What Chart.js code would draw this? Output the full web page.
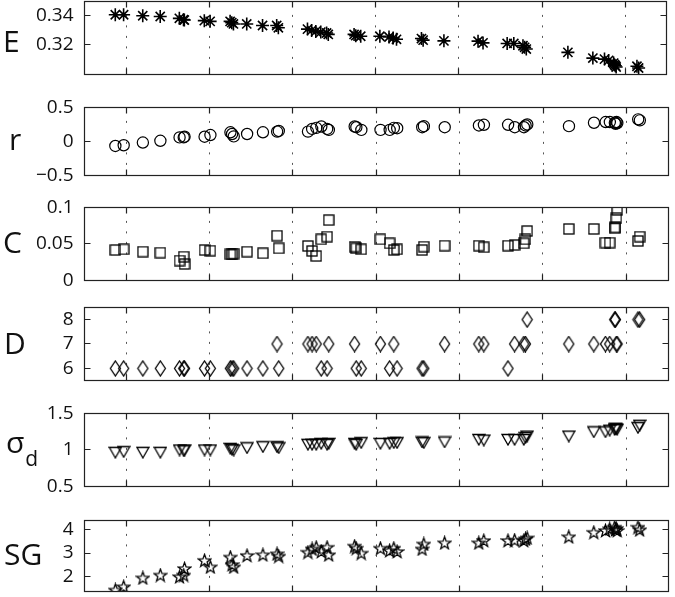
<!DOCTYPE html>
<html><head><meta charset="utf-8">
<script src="https://cdn.jsdelivr.net/npm/chart.js@4/dist/chart.umd.min.js"></script>
<style>
html,body{margin:0;padding:0;background:#fff;}
#wrap{position:relative;width:675px;height:597px;overflow:hidden;background:#fff;}
#wrap canvas{position:absolute;left:0;}
</style></head><body><div id="wrap"></div>
<script>
// ---- data ----
const xPos = [0.87,0.97,1.20,1.41,1.64,1.69,1.70,1.94,2.01,2.25,2.27,2.29,2.45,2.64,2.81,2.83,3.18,3.23,3.28,3.34,3.41,3.43,3.74,3.76,3.82,4.05,4.16,4.21,4.25,4.55,4.57,4.82,5.23,5.29,5.58,5.66,5.77,5.79,5.81,6.31,6.61,6.75,6.80,6.86,6.87,6.88,6.89,7.14,7.16];
const valE = [0.3407,0.3407,0.3400,0.3395,0.3382,0.3373,0.3370,0.3366,0.3361,0.3361,0.3352,0.3343,0.3343,0.3332,0.3332,0.3316,0.3307,0.3298,0.3291,0.3286,0.3280,0.3270,0.3270,0.3261,0.3257,0.3257,0.3252,0.3245,0.3236,0.3241,0.3230,0.3225,0.3223,0.3211,0.3207,0.3207,0.3191,0.3180,0.3168,0.3145,0.3105,0.3098,0.3089,0.3070,0.3059,0.3052,0.3043,0.3048,0.3036];
const valR = [-0.065,-0.055,-0.015,0.01,0.06,0.06,0.07,0.07,0.095,0.135,0.11,0.075,0.11,0.135,0.145,0.155,0.145,0.185,0.2,0.22,0.185,0.17,0.22,0.21,0.17,0.17,0.17,0.2,0.195,0.21,0.225,0.21,0.235,0.245,0.245,0.21,0.21,0.235,0.25,0.225,0.275,0.285,0.285,0.275,0.26,0.285,0.27,0.325,0.31];
const valC = [0.0418,0.0427,0.0395,0.0382,0.0273,0.0327,0.0227,0.0418,0.0409,0.0359,0.0359,0.0368,0.0395,0.0373,0.0614,0.0441,0.0473,0.0405,0.0336,0.0564,0.0600,0.0827,0.0464,0.0441,0.0427,0.0564,0.0509,0.0418,0.0427,0.0418,0.0464,0.0477,0.0477,0.0455,0.0477,0.0486,0.0509,0.0564,0.0677,0.0705,0.0705,0.0518,0.0518,0.0714,0.0727,0.0850,0.0964,0.0541,0.0600];
const valD = [6,6,6,6,6,6,6,6,6,6,6,6,6,6,7,6,7,7,7,6,6,7,7,6,6,7,6,7,6,6,6,7,7,7,6,7,7,7,8,7,7,7,7,8,8,7,7,8,8];
const valSigma = [0.968,0.977,0.968,0.968,1.0,0.99,1.0,1.0,1.0,1.022,1.01,1.0,1.03,1.045,1.045,1.03,1.077,1.077,1.077,1.09,1.077,1.09,1.09,1.077,1.1,1.09,1.09,1.1,1.1,1.11,1.1,1.11,1.144,1.135,1.144,1.144,1.144,1.17,1.19,1.19,1.248,1.248,1.27,1.28,1.29,1.29,1.284,1.306,1.338];
const valSG = [1.42,1.56,1.94,2.06,1.99,2.06,2.34,2.69,2.41,2.83,2.51,2.41,2.90,2.93,2.97,2.87,3.04,3.18,3.25,3.07,3.25,2.93,3.30,3.21,3.00,3.21,3.11,3.21,3.07,3.18,3.39,3.44,3.44,3.54,3.54,3.56,3.54,3.61,3.65,3.70,3.89,3.97,4.04,4.11,4.01,4.06,3.97,4.11,4.00];
const panelLabels = ['E','r','C','D','σ','SG'];
const panelSub = ['','','','','d',''];
const yMins = [0.299,-0.5,0,5.5,0.5,1.35];
const yMaxs = [0.35,0.5,0.1,8.5,1.5,4.4];
const yTicks = [[0.32,0.34],[-0.5,0,0.5],[0,0.05,0.1],[6,7,8],[0.5,1,1.5],[2,3,4]];
const xTicks = [1,2,3,4,5,6,7];
const xMin = 0.5, xMax = 7.5;

// ---- layout / style ----
const boxes = [[1,75,3,43],[107,176,9,141],[207,281,3,244],[307,381,4,345],[413,487,6,444],[520,592,4,556]];
const INK = '#000';
function mk(w,h,draw){const c=document.createElement('canvas');c.width=w;c.height=h;const g=c.getContext('2d');g.strokeStyle=INK;g.lineWidth=1.3;g.lineJoin='miter';draw(g,w,h);return c;}
const sq = mk(12,12,(g)=>{g.strokeRect(1,1,10,10);});
const dia = mk(13,17,(g,w,h)=>{g.beginPath();g.moveTo(w/2,1);g.lineTo(w-1.5,h/2);g.lineTo(w/2,h-1);g.lineTo(1.5,h/2);g.closePath();g.stroke();});
const tri = mk(14,13,(g,w,h)=>{g.beginPath();g.moveTo(1,1.5);g.lineTo(w-1,1.5);g.lineTo(w/2,h-1);g.closePath();g.stroke();});
const pent = mk(15,15,(g,w,h)=>{g.beginPath();const R=6.6,r=2.7,cx=w/2,cy=h/2+0.6;for(let k=0;k<10;k++){const a=-Math.PI/2+k*Math.PI/5;const rr=k%2?r:R;const px=cx+rr*Math.cos(a),py=cy+rr*Math.sin(a);k?g.lineTo(px,py):g.moveTo(px,py);}g.closePath();g.stroke();});
const styles = [
  {pointStyle:'star',radius:6.5,borderWidth:1.6},
  {pointStyle:'circle',radius:5.6,borderWidth:1.2},
  {pointStyle:sq,radius:6,borderWidth:1},
  {pointStyle:dia,radius:6,borderWidth:1},
  {pointStyle:tri,radius:6,borderWidth:1},
  {pointStyle:pent,radius:6,borderWidth:1}
];
const series = [valE,valR,valC,valD,valSigma,valSG];
function fmt(v){const s=String(Math.round(v*1000)/1000);return v<0?'\u2212'+s.slice(1):s;}

const framePlugin = {
  id:'frame',
  beforeDatasetsDraw(chart){
    const {ctx,chartArea:a,scales:{x}}=chart;
    ctx.save();ctx.strokeStyle='#555';ctx.lineWidth=1;ctx.setLineDash([2,8.5]);
    xTicks.forEach(v=>{const px=Math.floor(x.getPixelForValue(v))+0.5;ctx.beginPath();ctx.moveTo(px,a.top+3);ctx.lineTo(px,a.bottom);ctx.stroke();});
    ctx.restore();
  },
  afterDraw(chart){
    const {ctx,chartArea:a,scales:{x,y}}=chart;
    const i=chart.options.panelIndex;
    const L=Math.floor(a.left)+0.5,R=Math.floor(a.right)+0.5,T=Math.floor(a.top)+0.5,B=Math.floor(a.bottom)+0.5;
    ctx.save();ctx.strokeStyle='#222';ctx.lineWidth=1.2;
    ctx.strokeRect(L,T,R-L,B-T);
    ctx.beginPath();
    xTicks.forEach(v=>{const px=Math.floor(x.getPixelForValue(v))+0.5;ctx.moveTo(px,T);ctx.lineTo(px,T+6);ctx.moveTo(px,B);ctx.lineTo(px,B-6);});
    yTicks[i].forEach(v=>{const py=Math.floor(y.getPixelForValue(v))+0.5;ctx.moveTo(L,py);ctx.lineTo(L+6,py);ctx.moveTo(R,py);ctx.lineTo(R-6,py);});
    ctx.stroke();
    // panel label
    const bx=boxes[i];const oy=chart.options.canvasTop;
    ctx.fillStyle='#111';ctx.textBaseline='middle';ctx.textAlign='left';
    ctx.font='30px "Open Sans"';
    ctx.fillText(panelLabels[i],bx[2],bx[3]-oy);
    if(panelSub[i]){const w=ctx.measureText(panelLabels[i]).width;ctx.font='21px "Open Sans"';ctx.fillText(panelSub[i],bx[2]+w+1,bx[3]-oy+16);}
    ctx.restore();
  }
};

const wrap=document.getElementById('wrap');
series.forEach((vals,i)=>{
  const [bt,bb]=boxes[i];
  const ct=bt-22, ch=(bb-bt)+44;
  const cv=document.createElement('canvas');
  cv.width=675;cv.height=ch;cv.style.top=ct+'px';cv.style.width='675px';cv.style.height=ch+'px';
  wrap.appendChild(cv);
  new Chart(cv,{
    type:'scatter',
    data:{datasets:[Object.assign({
      data:xPos.map((xv,k)=>({x:xv,y:vals[k]})),
      borderColor:INK,backgroundColor:'rgba(0,0,0,0)',hoverRadius:0
    },styles[i])]},
    options:{
      panelIndex:i, canvasTop:ct,
      responsive:false,animation:false,events:[],
      layout:{padding:{left:0,right:0.5,top:bt-ct,bottom:(ct+ch)-bb}},
      plugins:{legend:{display:false},tooltip:{enabled:false}},
      scales:{
        x:{type:'linear',display:false,min:xMin,max:xMax},
        y:{type:'linear',position:'left',min:yMins[i],max:yMaxs[i],
          grid:{display:false,drawTicks:false},border:{display:false},
          ticks:{autoSkip:false,padding:11,color:'#111',font:{family:'"Open Sans"',size:19},callback:fmt},
          afterBuildTicks:(s)=>{s.ticks=yTicks[i].map(v=>({value:v}));},
          afterFit:(s)=>{s.width=84.5;}
        }
      }
    },
    plugins:[framePlugin]
  });
});
</script></body></html>
